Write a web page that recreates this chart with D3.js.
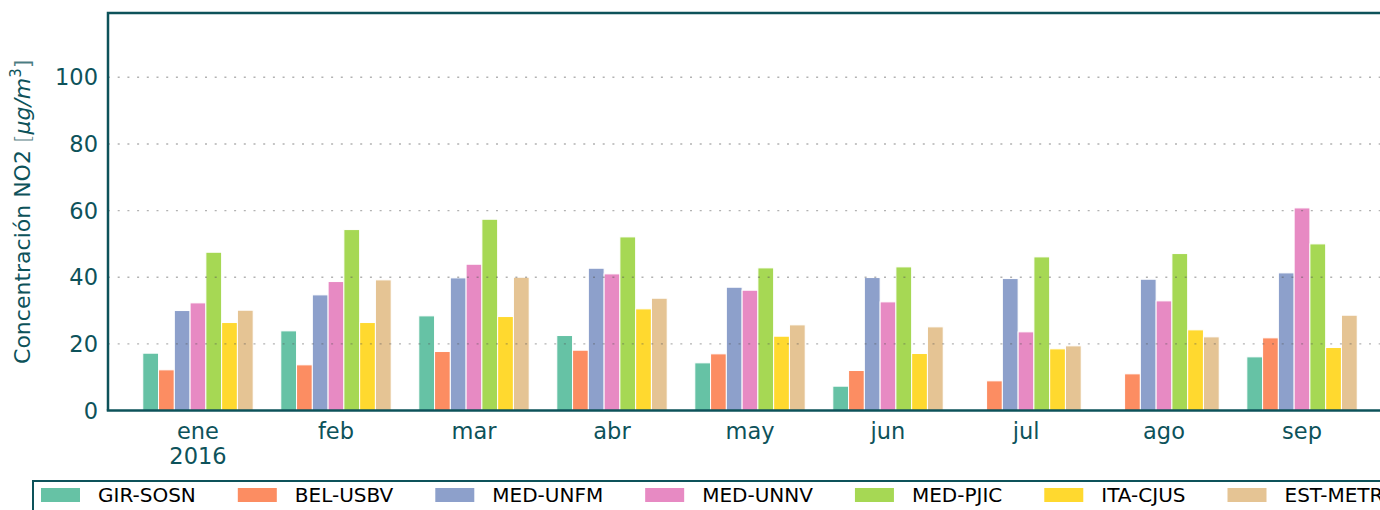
<!DOCTYPE html>
<html>
<head>
<meta charset="utf-8">
<script src="https://cdn.jsdelivr.net/npm/d3@7"></script>
<style>
  html, body { margin: 0; padding: 0; background: #fff; overflow: hidden; }
  text { font-family: "DejaVu Sans", sans-serif; }
</style>
</head>
<body>
<div id="canvas"></div>
<script>
// data
const months = ["ene", "feb", "mar", "abr", "may", "jun", "jul", "ago", "sep"];
const stations = ["GIR-SOSN", "BEL-USBV", "MED-UNFM", "MED-UNNV", "MED-PJIC", "ITA-CJUS", "EST-METR"];
const girSosn = [17.2, 23.9, 28.4, 22.5, 14.3, 7.3, null, null, 16.1];
const belUsbv = [12.2, 13.7, 17.7, 18.1, 17.0, 12.0, 8.9, 11.0, 21.8];
const medUnfm = [30.0, 34.7, 39.8, 42.7, 37.0, 39.9, 39.6, 39.4, 41.3];
const medUnnv = [32.3, 38.7, 43.9, 41.0, 36.1, 32.6, 23.6, 32.9, 60.8];
const medPjic = [47.5, 54.3, 57.4, 52.1, 42.8, 43.1, 46.1, 47.1, 50.0];
const itaCjus = [26.4, 26.4, 28.2, 30.5, 22.3, 17.1, 18.5, 24.2, 18.9];
const estMetr = [30.1, 39.2, 40.0, 33.7, 25.7, 25.1, 19.4, 22.1, 28.6];
const yTicks = [0, 20, 40, 60, 80, 100];

const seriesValues = [girSosn, belUsbv, medUnfm, medUnnv, medPjic, itaCjus, estMetr];
const set2 = ["#66c2a5", "#fc8d62", "#8da0cb", "#e78ac3", "#a6d854", "#ffd92f", "#e5c494"];
const teal = "#0d525a";

// svg canvas
const W = 1380, H = 510;
const margin = {top: 13, left: 108, bottom: 410.5, right: 1392};

const svg = d3.select("#canvas")
    .append("svg")
    .attr("width", W)
    .attr("height", H);

// scales
const x = d3.scaleLinear()
    .domain([-0.652, months.length - 1 + 0.652])
    .range([margin.left, margin.right]);
const step = x(1) - x(0);
const xSub = d3.scaleBand()
    .domain(stations)
    .range([-0.4 * step, 0.4 * step]);

const y = d3.scaleLinear()
    .domain([0, 119.3])
    .range([margin.bottom, margin.top]);

// bars
const bars = [];
seriesValues.forEach((vals, s) => {
    vals.forEach((v, m) => {
        if (v !== null) bars.push({station: stations[s], month: m, value: v, colour: set2[s]});
    });
});

svg.append("g")
    .selectAll("rect")
    .data(bars)
    .join("rect")
    .attr("x", d => x(d.month) + xSub(d.station))
    .attr("y", d => y(d.value))
    .attr("width", xSub.bandwidth())
    .attr("height", d => y(0) - y(d.value))
    .attr("fill", d => d.colour)
    .attr("stroke", "white")
    .attr("stroke-width", 1);

// gridlines on top
svg.append("g")
    .selectAll("line")
    .data(yTicks.filter(d => d > 0))
    .join("line")
    .attr("x1", margin.left)
    .attr("x2", margin.right)
    .attr("y1", d => y(d))
    .attr("y2", d => y(d))
    .attr("stroke", "#555")
    .attr("stroke-opacity", 0.45)
    .attr("stroke-width", 1.4)
    .attr("stroke-dasharray", "2,7.7");

// y axis
const yAxis = svg.append("g")
    .attr("transform", "translate(" + margin.left + ",0)")
    .call(d3.axisLeft(y).tickValues(yTicks).tickSize(0).tickPadding(10));
yAxis.select(".domain").remove();
yAxis.selectAll("text")
    .attr("fill", teal)
    .style("font-size", "22.5px")
    .attr("dy", "0.34em");

// x labels
const xLab = svg.append("g")
    .selectAll("text")
    .data(months)
    .join("text")
    .attr("x", (d, i) => x(i))
    .attr("y", 439)
    .attr("text-anchor", "middle")
    .attr("fill", teal)
    .style("font-size", "22.5px");
xLab.append("tspan").text(d => d);
xLab.filter((d, i) => i === 0)
    .append("tspan")
    .attr("x", x(0))
    .attr("dy", 25)
    .text("2016");

// spines
svg.append("path")
    .attr("d", "M" + margin.left + "," + margin.bottom + "V" + margin.top + "H" + margin.right)
    .attr("fill", "none")
    .attr("stroke", teal)
    .attr("stroke-width", 2.5);
svg.append("line")
    .attr("x1", margin.left - 1.25)
    .attr("x2", margin.right)
    .attr("y1", y(0))
    .attr("y2", y(0))
    .attr("stroke", teal)
    .attr("stroke-width", 2.5);

// y label
const yLab = svg.append("text")
    .attr("transform", "translate(30," + ((margin.top + margin.bottom) / 2) + ") rotate(-90)")
    .attr("text-anchor", "middle")
    .attr("fill", teal)
    .style("font-size", "22px");
yLab.append("tspan").text("Concentración NO2 ");
yLab.append("tspan").attr("font-weight", 300).attr("fill-opacity", 0.75).text("[");
yLab.append("tspan").attr("font-style", "italic").text("μg/m");
yLab.append("tspan").attr("font-size", "15px").attr("dy", "-9").text("3");
yLab.append("tspan").attr("dy", "9").attr("fill-opacity", 0.75).text("]");

// legend
const legend = svg.append("g");
legend.append("rect")
    .attr("x", 33)
    .attr("y", 481)
    .attr("width", 1400)
    .attr("height", 60)
    .attr("fill", "white")
    .attr("stroke", teal)
    .attr("stroke-width", 2);

let lx = 41;
stations.forEach((s, i) => {
    legend.append("rect")
        .attr("x", lx)
        .attr("y", 488)
        .attr("width", 39)
        .attr("height", 14)
        .attr("fill", set2[i]);
    const t = legend.append("text")
        .attr("x", lx + 57)
        .attr("y", 502)
        .attr("fill", "black")
        .style("font-size", "20px")
        .text(s);
    lx = lx + 57 + t.node().getComputedTextLength() + 42;
});
</script>
</body>
</html>
